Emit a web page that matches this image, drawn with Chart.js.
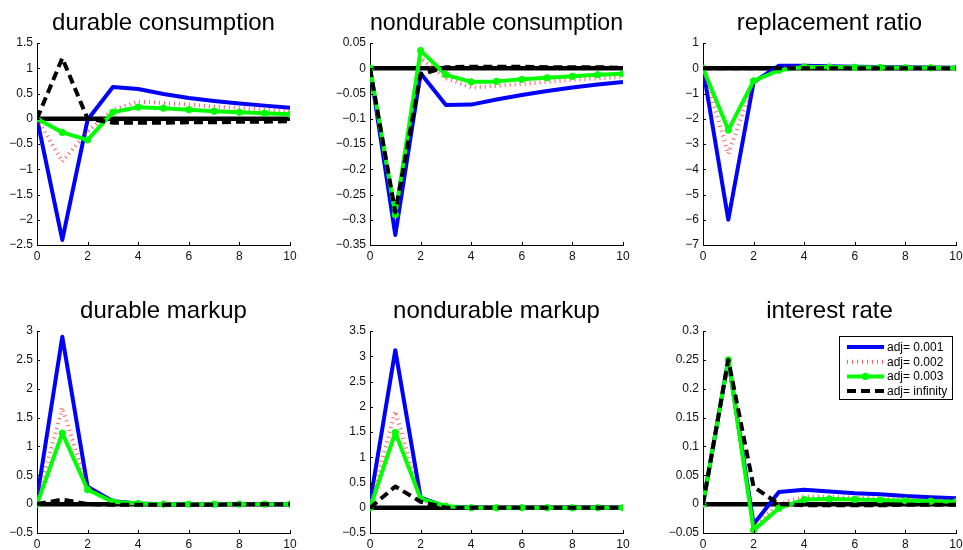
<!DOCTYPE html>
<html>
<head>
<meta charset="utf-8">
<title>Impulse responses</title>
<script src="https://cdn.jsdelivr.net/npm/chart.js@4.4.1/dist/chart.umd.min.js"></script>
<style>
  html, body { margin: 0; padding: 0; background: #fff; overflow: hidden; }
  #figure { position: relative; width: 963px; height: 550px; }
  #figure canvas { position: absolute; }
</style>
</head>
<body>
<div id="figure">
  <canvas id="durCons" width="328" height="275" style="left:-23px;top:0"></canvas>
  <canvas id="nondurCons" width="328" height="275" style="left:310px;top:0"></canvas>
  <canvas id="replRatio" width="328" height="275" style="left:643px;top:0"></canvas>
  <canvas id="durMarkup" width="328" height="275" style="left:-23px;top:288px"></canvas>
  <canvas id="nondurMarkup" width="328" height="275" style="left:310px;top:288px"></canvas>
  <canvas id="intRate" width="328" height="275" style="left:643px;top:288px"></canvas>
</div>
<script>
// periods after the shock
const periods = [0, 1, 2, 3, 4, 5, 6, 7, 8, 9, 10];
const xTicks = [0, 2, 4, 6, 8, 10];
const seriesLabels = ['adj= 0.001', 'adj= 0.002', 'adj= 0.003', 'adj= infinity'];

// durable consumption
const durConsAdj1 = [0, -2.4, -0.02, 0.63, 0.59, 0.49, 0.41, 0.35, 0.30, 0.26, 0.22];
const durConsAdj2 = [0, -0.85, -0.25, 0.18, 0.34, 0.31, 0.28, 0.24, 0.21, 0.18, 0.15];
const durConsAdj3 = [0, -0.27, -0.42, 0.13, 0.23, 0.21, 0.18, 0.15, 0.13, 0.11, 0.09];
const durConsAdjInf = [0, 1.2, 0.0, -0.08, -0.08, -0.08, -0.07, -0.07, -0.06, -0.06, -0.05];
const durConsTicks = [-2.5, -2, -1.5, -1, -0.5, 0, 0.5, 1, 1.5];

// nondurable consumption
const nondurConsAdj1 = [0, -0.33, -0.01, -0.073, -0.072, -0.062, -0.053, -0.045, -0.038, -0.032, -0.027];
const nondurConsAdj2 = [0, -0.29, 0.02, -0.02, -0.038, -0.035, -0.031, -0.027, -0.023, -0.02, -0.017];
const nondurConsAdj3 = [0, -0.29, 0.035, -0.013, -0.027, -0.026, -0.022, -0.019, -0.016, -0.013, -0.011];
const nondurConsAdjInf = [0, -0.285, -0.012, 0.002, 0.003, 0.003, 0.003, 0.002, 0.002, 0.002, 0.001];
const nondurConsTicks = [-0.35, -0.3, -0.25, -0.2, -0.15, -0.1, -0.05, 0, 0.05];

// replacement ratio
const replRatioAdj1 = [0, -6.0, -0.55, 0.1, 0.1, 0.08, 0.06, 0.05, 0.04, 0.03, 0.02];
const replRatioAdj2 = [0, -3.4, -0.55, 0.0, 0.06, 0.06, 0.05, 0.04, 0.03, 0.03, 0.02];
const replRatioAdj3 = [0, -2.45, -0.5, -0.08, 0.05, 0.05, 0.04, 0.03, 0.02, 0.02, 0.01];
const replRatioAdjInf = [0, 0, 0, 0, 0, 0, 0, 0, 0, 0, 0];
const replRatioTicks = [-7, -6, -5, -4, -3, -2, -1, 0, 1];

// durable markup
const durMarkupAdj1 = [0.1, 2.9, 0.3, 0.05, 0.01, 0, 0, 0, 0, 0, 0];
const durMarkupAdj2 = [0.05, 1.67, 0.28, 0.04, 0.01, 0, 0, 0, 0, 0, 0];
const durMarkupAdj3 = [0, 1.23, 0.25, 0.04, 0.01, 0, 0, 0, 0, 0, 0];
const durMarkupAdjInf = [0, 0.08, 0.0, -0.01, -0.01, -0.01, -0.01, -0.01, 0, 0, 0];
const durMarkupTicks = [-0.5, 0, 0.5, 1, 1.5, 2, 2.5, 3];

// nondurable markup
const nondurMarkupAdj1 = [0.1, 3.12, 0.2, 0.02, 0, 0, 0, 0, 0, 0, 0];
const nondurMarkupAdj2 = [0.05, 1.91, 0.15, 0.02, 0, 0, 0, 0, 0, 0, 0];
const nondurMarkupAdj3 = [0, 1.49, 0.18, 0.03, 0, 0, 0, 0, 0, 0, 0];
const nondurMarkupAdjInf = [0, 0.42, 0.12, 0.0, 0, 0, 0, 0, 0, 0, 0];
const nondurMarkupTicks = [-0.5, 0, 0.5, 1, 1.5, 2, 2.5, 3, 3.5];

// interest rate
const intRateAdj1 = [0, 0.25, -0.035, 0.021, 0.025, 0.022, 0.019, 0.017, 0.014, 0.012, 0.010];
const intRateAdj2 = [0, 0.25, -0.04, 0.0, 0.013, 0.013, 0.011, 0.010, 0.008, 0.007, 0.006];
const intRateAdj3 = [0, 0.25, -0.045, -0.007, 0.008, 0.009, 0.008, 0.007, 0.006, 0.005, 0.004];
const intRateAdjInf = [0, 0.25, 0.03, 0.0, -0.002, -0.002, -0.002, -0.002, -0.001, -0.001, -0.001];
const intRateTicks = [-0.05, 0, 0.05, 0.1, 0.15, 0.2, 0.25, 0.3];

const FONT = '"Liberation Sans", Arial, Helvetica, sans-serif';

/**
 * Turn a value list into {x, y} points over the periods
 */
function toPoints(values) {
    return periods.map((t, i) => ({ x: t, y: values[i] }));
}

/**
 * MATLAB style tick label: no trailing zeros, proper minus sign
 */
function tickLabel(value) {
    const s = String(Math.round(value * 1000) / 1000);
    return s.replace('-', '\u2212');
}

// small tick marks pointing into the plot area
const innerTicks = {
    id: 'innerTicks',
    afterDatasetsDraw(chart) {
        const { ctx, chartArea } = chart;
        ctx.save();
        ctx.strokeStyle = '#000';
        ctx.lineWidth = 1;
        ctx.beginPath();
        chart.scales.x.ticks.forEach(tick => {
            const x = Math.round(chart.scales.x.getPixelForValue(tick.value)) + 0.5;
            ctx.moveTo(x, chartArea.bottom);
            ctx.lineTo(x, chartArea.bottom - 3);
        });
        chart.scales.y.ticks.forEach(tick => {
            const y = Math.round(chart.scales.y.getPixelForValue(tick.value)) + 0.5;
            ctx.moveTo(chartArea.left, y);
            ctx.lineTo(chartArea.left + 3, y);
        });
        ctx.stroke();
        ctx.restore();
    }
};

// boxed legend in the top right corner (last panel only)
const boxLegend = {
    id: 'boxLegend',
    afterDraw(chart) {
        const { ctx, chartArea } = chart;
        const items = chart.data.datasets.filter(ds => ds.label);
        const left = chartArea.right - 117;
        const top = chartArea.top + 5;
        const width = 113;
        const height = 63;

        ctx.save();
        ctx.fillStyle = '#fff';
        ctx.fillRect(left, top, width, height);
        ctx.strokeStyle = '#000';
        ctx.lineWidth = 1;
        ctx.strokeRect(left + 0.5, top + 0.5, width, height);

        items.forEach((ds, i) => {
            const y = top + 11 + i * 14.7;
            ctx.save();
            ctx.strokeStyle = ds.borderColor;
            ctx.lineWidth = ds.borderWidth;
            ctx.setLineDash(ds.borderDash || []);
            ctx.beginPath();
            ctx.moveTo(left + 8, y);
            ctx.lineTo(left + 45, y);
            ctx.stroke();
            if (ds.pointRadius > 0) {
                ctx.setLineDash([]);
                ctx.fillStyle = ds.pointBackgroundColor;
                ctx.beginPath();
                ctx.arc(left + 26.5, y, ds.pointRadius + 0.5, 0, Math.PI * 2);
                ctx.fill();
            }
            ctx.restore();

            ctx.fillStyle = '#000';
            ctx.font = '12px ' + FONT;
            ctx.textBaseline = 'middle';
            ctx.textAlign = 'left';
            ctx.fillText(ds.label, left + 48, y + 0.5);
        });
        ctx.restore();
    }
};

/**
 * Draw one subplot
 */
function drawPanel(canvasId, title, adj1, adj2, adj3, adjInf, yTicks, withLegend) {
    const ctx = document.getElementById(canvasId).getContext('2d');
    const yMin = yTicks[0];
    const yMax = yTicks[yTicks.length - 1];

    const datasets = [
        {
            // zero reference line
            data: toPoints(periods.map(() => 0)),
            borderColor: '#000',
            borderWidth: 4.5,
            pointRadius: 0,
            order: 5
        },
        {
            label: seriesLabels[0],
            data: toPoints(adj1),
            borderColor: '#0000ff',
            borderWidth: 4,
            pointRadius: 0,
            order: 4
        },
        {
            label: seriesLabels[1],
            data: toPoints(adj2),
            borderColor: 'rgba(255, 40, 40, 0.75)',
            borderWidth: 4,
            borderDash: [1, 4],
            pointRadius: 0,
            order: 3
        },
        {
            label: seriesLabels[2],
            data: toPoints(adj3),
            borderColor: '#00ff00',
            borderWidth: 4,
            pointRadius: 3.2,
            pointBackgroundColor: '#00ff00',
            pointBorderColor: '#00ff00',
            pointBorderWidth: 1,
            order: 2
        },
        {
            label: seriesLabels[3],
            data: toPoints(adjInf),
            borderColor: '#000',
            borderWidth: 4,
            borderDash: [9, 5],
            pointRadius: 0,
            order: 1
        }
    ];

    return new Chart(ctx, {
        type: 'line',
        data: { datasets: datasets },
        options: {
            responsive: false,
            animation: false,
            events: [],
            layout: { padding: { left: 0, right: 15, top: 0, bottom: 0 } },
            elements: { line: { tension: 0, borderJoinStyle: 'round', borderCapStyle: 'butt' } },
            plugins: {
                legend: { display: false },
                tooltip: { enabled: false },
                title: {
                    display: true,
                    text: title,
                    fullSize: false,
                    color: '#000',
                    font: { family: FONT, size: 24, weight: 'normal', lineHeight: 1.2 },
                    padding: { top: 9, bottom: 5.2 }
                }
            },
            scales: {
                x: {
                    type: 'linear',
                    min: 0,
                    max: 10,
                    afterBuildTicks: axis => { axis.ticks = xTicks.map(v => ({ value: v })); },
                    afterFit: axis => { axis.height = 30; },
                    grid: { display: true, drawOnChartArea: false, drawTicks: false },
                    border: { display: true, color: '#000', width: 1 },
                    ticks: {
                        color: '#111',
                        padding: 4,
                        maxRotation: 0,
                        font: { family: FONT, size: 12 },
                        callback: v => tickLabel(v)
                    }
                },
                y: {
                    type: 'linear',
                    min: yMin,
                    max: yMax,
                    afterBuildTicks: axis => { axis.ticks = yTicks.map(v => ({ value: v })); },
                    afterFit: axis => { axis.width = 60; },
                    grid: { display: true, drawOnChartArea: false, drawTicks: false },
                    border: { display: true, color: '#000', width: 1 },
                    ticks: {
                        color: '#111',
                        padding: 4,
                        font: { family: FONT, size: 12 },
                        callback: v => tickLabel(v)
                    }
                }
            }
        },
        plugins: withLegend ? [innerTicks, boxLegend] : [innerTicks]
    });
}

drawPanel('durCons', 'durable consumption', durConsAdj1, durConsAdj2, durConsAdj3, durConsAdjInf, durConsTicks, false);
drawPanel('nondurCons', 'nondurable consumption', nondurConsAdj1, nondurConsAdj2, nondurConsAdj3, nondurConsAdjInf, nondurConsTicks, false);
drawPanel('replRatio', 'replacement ratio', replRatioAdj1, replRatioAdj2, replRatioAdj3, replRatioAdjInf, replRatioTicks, false);
drawPanel('durMarkup', 'durable markup', durMarkupAdj1, durMarkupAdj2, durMarkupAdj3, durMarkupAdjInf, durMarkupTicks, false);
drawPanel('nondurMarkup', 'nondurable markup', nondurMarkupAdj1, nondurMarkupAdj2, nondurMarkupAdj3, nondurMarkupAdjInf, nondurMarkupTicks, false);
drawPanel('intRate', 'interest rate', intRateAdj1, intRateAdj2, intRateAdj3, intRateAdjInf, intRateTicks, true);
</script>
</body>
</html>
